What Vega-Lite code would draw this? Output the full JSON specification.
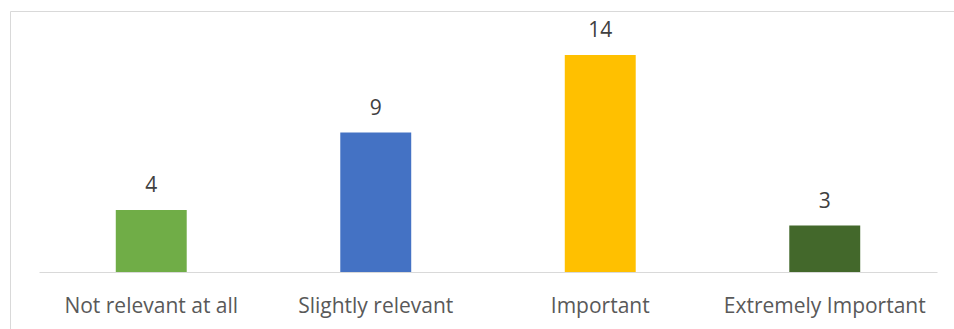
{
  "$schema": "https://vega.github.io/schema/vega-lite/v6.json",
  "width": 950,
  "height": 329,
  "autosize": {"type": "none"},
  "padding": {"left": 10, "top": 11, "right": 0, "bottom": 0},
  "background": "white",
  "config": {
    "view": {"stroke": "#D9D9D9", "strokeWidth": 1},
    "font": "Open Sans"
  },
  "data": {
    "values": [
      {"category": "Not relevant at all", "count": 4},
      {"category": "Slightly relevant", "count": 9},
      {"category": "Important", "count": 14},
      {"category": "Extremely Important", "count": 3}
    ]
  },
  "encoding": {
    "x": {
      "field": "category",
      "type": "nominal",
      "sort": null,
      "scale": {"range": [29, 927], "paddingInner": 0.684, "paddingOuter": 0.342},
      "axis": {
        "title": null,
        "orient": "bottom",
        "offset": -68,
        "labelAngle": 0,
        "ticks": false,
        "domainColor": "#D9D9D9",
        "domainWidth": 1,
        "labelFontSize": 21,
        "labelLimit": 0,
        "labelColor": "#595959",
        "labelBaseline": "alphabetic",
        "labelPadding": 40,
        "grid": false
      }
    },
    "y": {
      "field": "count",
      "type": "quantitative",
      "scale": {"domain": [-4.387, 16.839], "nice": false, "zero": false},
      "axis": null
    }
  },
  "layer": [
    {
      "mark": {"type": "bar"},
      "encoding": {
        "color": {
          "field": "category",
          "type": "nominal",
          "scale": {
            "domain": ["Not relevant at all", "Slightly relevant", "Important", "Extremely Important"],
            "range": ["#70AD47", "#4472C4", "#FFC000", "#43682B"]
          },
          "legend": null
        }
      }
    },
    {
      "mark": {"type": "text", "dy": -18, "baseline": "alphabetic", "fontSize": 21, "color": "#404040"},
      "encoding": {"text": {"field": "count", "type": "quantitative"}}
    }
  ]
}
